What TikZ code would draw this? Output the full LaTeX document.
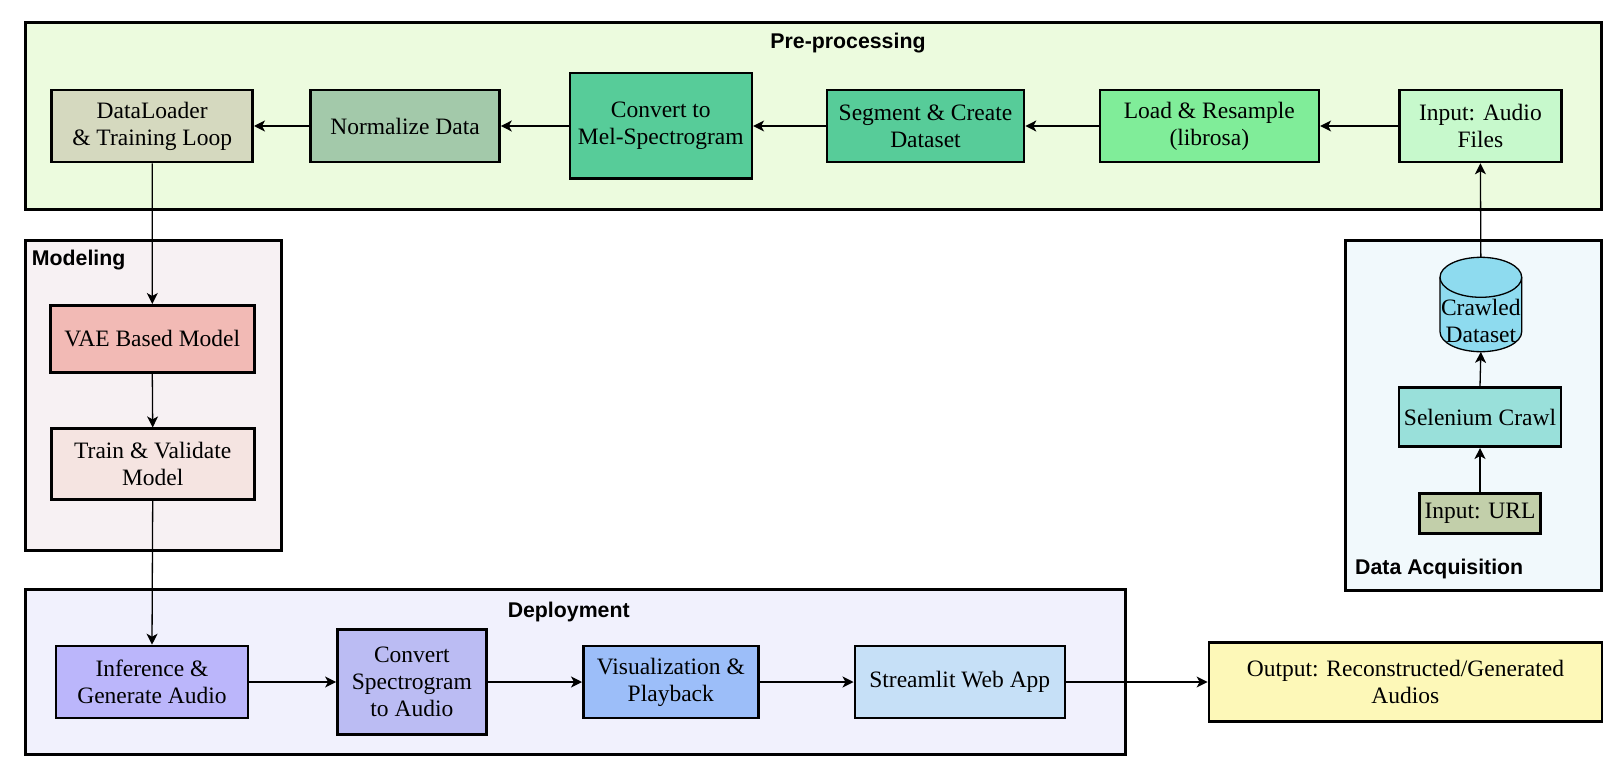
\documentclass[tikz,border=0pt]{standalone}
\usepackage{fontspec}
\setmainfont{Liberation Serif}
\newfontfamily\titlefont{Liberation Sans}
\usetikzlibrary{arrows.meta}
\definecolor{preBg}{HTML}{ECFBDE}
\definecolor{modBg}{HTML}{F7F1F3}
\definecolor{daBg}{HTML}{F1F9FC}
\definecolor{depBg}{HTML}{F1F1FD}
\definecolor{cDL}{HTML}{D5D9BF}
\definecolor{cNorm}{HTML}{A3C9AA}
\definecolor{cMel}{HTML}{57CC99}
\definecolor{cLoad}{HTML}{80ED99}
\definecolor{cIn}{HTML}{C7F9CC}
\definecolor{cVae}{HTML}{F2BAB5}
\definecolor{cTrain}{HTML}{F5E4E1}
\definecolor{cCyl}{HTML}{8EDBEF}
\definecolor{cSel}{HTML}{99E0DA}
\definecolor{cUrl}{HTML}{C2CFAA}
\definecolor{cInf}{HTML}{BBB6FB}
\definecolor{cConv}{HTML}{BBBCF3}
\definecolor{cVis}{HTML}{9CBEF9}
\definecolor{cStr}{HTML}{C6E0F7}
\definecolor{cOut}{HTML}{FDF8B8}
\begin{document}
\begin{tikzpicture}[x=1pt,y=-1pt,
  box/.style={draw=black, line width=2.6pt, align=center, inner sep=2pt,
    font=\fontsize{23.5}{27}\selectfont},
  grp/.style={draw=black, line width=3pt, inner sep=0pt},
  conn/.style={draw=black, line width=1.3pt, -{Stealth[length=11pt,width=11pt,inset=3pt]}},
  ttl/.style={font=\titlefont\bfseries\fontsize{21.3}{24}\selectfont, inner sep=0pt}
]
\useasboundingbox[fill=white] (0,0) rectangle (1620,773);

% group boxes
\node[grp, fill=preBg, minimum width=1576pt, minimum height=187pt] (pre) at (813.2,115.9) {};
\node[grp, fill=modBg, minimum width=256pt, minimum height=310pt] (modg) at (153.7,395.7) {};
\node[grp, fill=daBg, minimum width=256pt, minimum height=350pt] (dag) at (1473,415.7) {};
\node[grp, fill=depBg, minimum width=1100pt, minimum height=165pt] (depg) at (575.2,671.5) {};

% titles
\node[ttl] (tpre) at (848,43.3) {Pre-processing};
\node[ttl, anchor=west] (tmod) at (31.7,260) {Modeling};
\node[ttl, anchor=west] (tda) at (1355,569) {Data Acquisition};
\node[ttl] (tdep) at (568.7,611.7) {Deployment};

% pre-processing nodes
\node[box, fill=cDL, minimum width=201pt, minimum height=72pt] (dl) at (152.2,126) {DataLoader\\\& Training Loop};
\node[box, fill=cNorm, minimum width=189pt, minimum height=72pt] (norm) at (405,126) {Normalize Data};
\node[box, fill=cMel, minimum width=182pt, minimum height=105pt] (mel) at (660.8,125.7) {Convert to\\Mel-Spectrogram};
\node[box, fill=cMel, minimum width=197pt, minimum height=72pt] (seg) at (925.5,126) {Segment \& Create\\Dataset};
\node[box, fill=cLoad, minimum width=219pt, minimum height=72pt] (load) at (1209.3,126) {Load \& Resample\\(librosa)};
\node[box, fill=cIn, minimum width=162pt, minimum height=72pt] (inaudio) at (1480.4,126) {Input: Audio\\Files};

% modeling nodes
\node[box, fill=cVae, minimum width=204pt, minimum height=67pt] (vae) at (152.3,338.8) {VAE Based Model};
\node[box, fill=cTrain, minimum width=203pt, minimum height=71pt] (train) at (152.7,464.2) {Train \& Validate\\Model};

% data acquisition: cylinder
\fill[cCyl] (1440,277.3) -- (1440,331.7) arc[start angle=180,end angle=0,x radius=40.85,y radius=20] -- (1521.7,277.3) arc[start angle=0,end angle=-180,x radius=40.85,y radius=20] -- cycle;
\draw[line width=1.3pt] (1440,277.3) -- (1440,331.7) arc[start angle=180,end angle=0,x radius=40.85,y radius=20] -- (1521.7,277.3);
\draw[line width=1.3pt] (1480.85,277.3) ellipse[x radius=40.85,y radius=20];
\node[inner sep=0pt, minimum width=81.7pt, minimum height=94.4pt] (cyl) at (1480.85,304.5) {};
\node[align=center, inner sep=0pt, font=\fontsize{23.5}{27}\selectfont] (cyltxt) at (1480.85,321) {Crawled\\Dataset};
\node[box, fill=cSel, minimum width=162pt, minimum height=59pt] (sel) at (1480,417.2) {Selenium Crawl};
\node[box, fill=cUrl, minimum width=121pt, minimum height=40pt, inner sep=1pt] (url) at (1480,513.5) {Input: URL};

% deployment
\node[box, fill=cInf, minimum width=192pt, minimum height=72pt] (inf) at (152,682) {Inference \&\\Generate Audio};
\node[box, fill=cConv, minimum width=149pt, minimum height=105pt] (conv) at (411.9,681.7) {Convert\\Spectrogram\\to Audio};
\node[box, fill=cVis, minimum width=175pt, minimum height=72pt] (vis) at (670.8,682) {Visualization \&\\Playback};
\node[box, fill=cStr, minimum width=210pt, minimum height=72pt] (str) at (959.8,682) {Streamlit Web App};
\node[box, fill=cOut, minimum width=393pt, minimum height=79pt] (out) at (1405.4,681.7) {Output: Reconstructed/Generated\\Audios};

% connectors
\draw[conn] (inaudio.west) -- (load.east);
\draw[conn] (load.west) -- (seg.east);
\draw[conn] (seg.west) -- (mel.east |- seg.west);
\draw[conn] (mel.west |- norm.east) -- (norm.east);
\draw[conn] (norm.west) -- (dl.east);
\draw[conn] (dl.south) -- (vae.north);
\draw[conn] (vae.south) -- (train.north);
\draw[conn] (train.south) -- (inf.north);
\draw[conn] (inf.east) -- (conv.west |- inf.east);
\draw[conn] (conv.east |- vis.west) -- (vis.west);
\draw[conn] (vis.east) -- (str.west);
\draw[conn] (str.east) -- (out.west |- str.east);
\draw[conn] (url.north) -- (sel.south);
\draw[conn] (sel.north) -- (cyl.south);
\draw[conn] (cyl.north) -- (inaudio.south);
\end{tikzpicture}
\end{document}
